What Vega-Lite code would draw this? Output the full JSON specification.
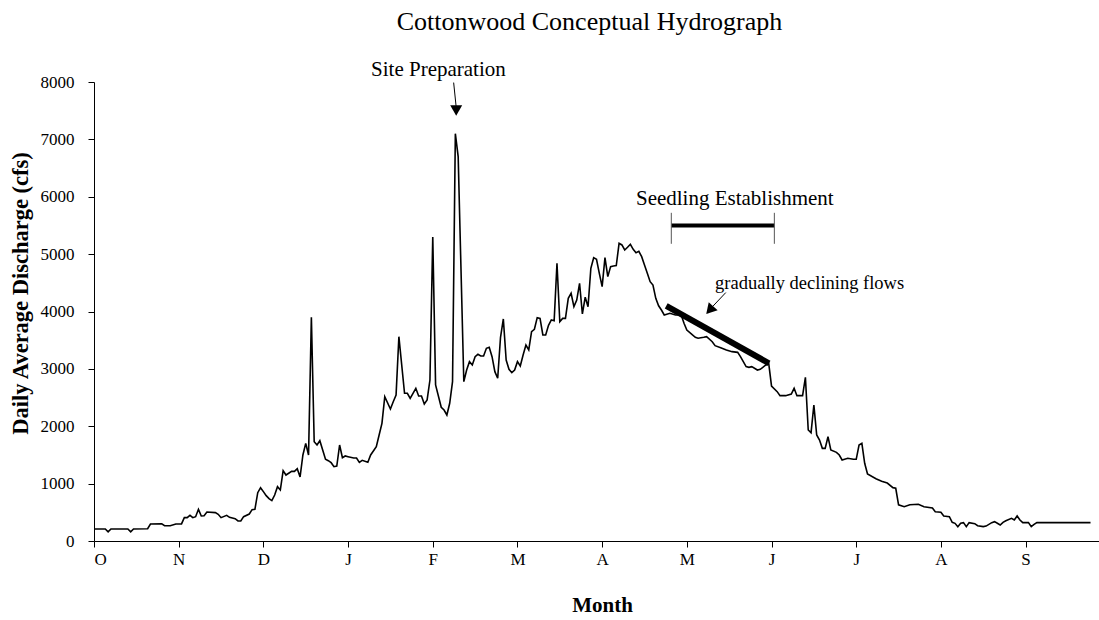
{
  "$schema": "https://vega.github.io/schema/vega-lite/v6.json",
  "width": 1005,
  "height": 459,
  "autosize": {"type": "none"},
  "padding": {"left": 94, "top": 82, "right": 0, "bottom": 79},
  "background": "white",
  "title": {"text": "Cottonwood Conceptual Hydrograph", "font": "Liberation Serif", "fontSize": 26, "fontWeight": "normal", "color": "black", "anchor": "middle", "baseline": "alphabetic", "offset": 3, "dx": -7},
  "config": {
    "view": {"stroke": null},
    "font": "Liberation Serif",
    "axis": {"domainColor": "black", "tickColor": "black", "labelColor": "black", "titleColor": "black", "labelFont": "Liberation Serif", "titleFont": "Liberation Serif", "grid": false, "tickSize": 6, "domainWidth": 1, "tickWidth": 1, "labelFontSize": 17, "titleFontWeight": "bold"}
  },
  "datasets": {
    "flow": [
      {"day":0,"cfs":210},{"day":4,"cfs":210},{"day":5,"cfs":160},{"day":6,"cfs":210},{"day":12,"cfs":210},{"day":13,"cfs":160},{"day":14,"cfs":210},{"day":19,"cfs":214},{"day":20,"cfs":296},{"day":24,"cfs":298},{"day":25,"cfs":267},{"day":27,"cfs":267},{"day":29,"cfs":296},{"day":31,"cfs":298},{"day":32,"cfs":407},{"day":33,"cfs":407},{"day":34,"cfs":447},{"day":35,"cfs":407},{"day":36,"cfs":424},{"day":37,"cfs":552},{"day":38,"cfs":436},{"day":39,"cfs":440},{"day":40,"cfs":505},{"day":43,"cfs":494},{"day":44,"cfs":465},{"day":45,"cfs":407},{"day":47,"cfs":447},{"day":48,"cfs":412},{"day":50,"cfs":389},{"day":51,"cfs":349},{"day":52,"cfs":349},{"day":53,"cfs":424},{"day":55,"cfs":470},{"day":56,"cfs":546},{"day":57,"cfs":552},{"day":58,"cfs":842},{"day":59,"cfs":929},{"day":60,"cfs":860},{"day":61,"cfs":790},{"day":62,"cfs":738},{"day":63,"cfs":703},{"day":64,"cfs":801},{"day":65,"cfs":947},{"day":66,"cfs":889},{"day":67,"cfs":1226},{"day":68,"cfs":1150},{"day":70,"cfs":1214},{"day":71,"cfs":1214},{"day":72,"cfs":1261},{"day":73,"cfs":1116},{"day":74,"cfs":1499},{"day":75,"cfs":1702},{"day":76,"cfs":1499},{"day":77,"cfs":3900},{"day":78,"cfs":1731},{"day":79,"cfs":1673},{"day":80,"cfs":1748},{"day":82,"cfs":1424},{"day":83,"cfs":1400},{"day":84,"cfs":1365},{"day":85,"cfs":1295},{"day":86,"cfs":1307},{"day":87,"cfs":1673},{"day":88,"cfs":1453},{"day":89,"cfs":1482},{"day":90,"cfs":1470},{"day":92,"cfs":1447},{"day":93,"cfs":1447},{"day":94,"cfs":1371},{"day":95,"cfs":1406},{"day":97,"cfs":1371},{"day":98,"cfs":1500},{"day":100,"cfs":1644},{"day":101,"cfs":1848},{"day":102,"cfs":2051},{"day":103,"cfs":2516},{"day":105,"cfs":2301},{"day":106,"cfs":2428},{"day":107,"cfs":2545},{"day":108,"cfs":3561},{"day":110,"cfs":2574},{"day":111,"cfs":2574},{"day":112,"cfs":2487},{"day":114,"cfs":2661},{"day":115,"cfs":2527},{"day":116,"cfs":2527},{"day":117,"cfs":2388},{"day":118,"cfs":2458},{"day":119,"cfs":2806},{"day":120,"cfs":5300},{"day":121,"cfs":2719},{"day":123,"cfs":2330},{"day":124,"cfs":2283},{"day":125,"cfs":2196},{"day":126,"cfs":2400},{"day":127,"cfs":2777},{"day":128,"cfs":7100},{"day":129,"cfs":6700},{"day":131,"cfs":2777},{"day":132,"cfs":2980},{"day":133,"cfs":3126},{"day":134,"cfs":3068},{"day":135,"cfs":3213},{"day":136,"cfs":3254},{"day":137,"cfs":3225},{"day":138,"cfs":3225},{"day":139,"cfs":3359},{"day":140,"cfs":3376},{"day":141,"cfs":3213},{"day":142,"cfs":2951},{"day":143,"cfs":2836},{"day":144,"cfs":3550},{"day":145,"cfs":3870},{"day":146,"cfs":3155},{"day":147,"cfs":2993},{"day":148,"cfs":2934},{"day":149,"cfs":2980},{"day":150,"cfs":3126},{"day":151,"cfs":3050},{"day":152,"cfs":3243},{"day":153,"cfs":3416},{"day":154,"cfs":3330},{"day":155,"cfs":3649},{"day":156,"cfs":3690},{"day":157,"cfs":3893},{"day":158,"cfs":3880},{"day":159,"cfs":3591},{"day":160,"cfs":3591},{"day":161,"cfs":3760},{"day":162,"cfs":3852},{"day":163,"cfs":3840},{"day":164,"cfs":4840},{"day":165,"cfs":3822},{"day":166,"cfs":3880},{"day":167,"cfs":3880},{"day":168,"cfs":4230},{"day":169,"cfs":4317},{"day":170,"cfs":4084},{"day":171,"cfs":4200},{"day":172,"cfs":4492},{"day":173,"cfs":3957},{"day":174,"cfs":4250},{"day":175,"cfs":4084},{"day":176,"cfs":4753},{"day":177,"cfs":4938},{"day":178,"cfs":4909},{"day":179,"cfs":4666},{"day":180,"cfs":4433},{"day":181,"cfs":4938},{"day":182,"cfs":4608},{"day":183,"cfs":4782},{"day":184,"cfs":4794},{"day":185,"cfs":4800},{"day":186,"cfs":5189},{"day":187,"cfs":5160},{"day":188,"cfs":5072},{"day":189,"cfs":5119},{"day":190,"cfs":5171},{"day":191,"cfs":5084},{"day":192,"cfs":5025},{"day":193,"cfs":5050},{"day":194,"cfs":4956},{"day":195,"cfs":4811},{"day":196,"cfs":4666},{"day":197,"cfs":4520},{"day":198,"cfs":4462},{"day":199,"cfs":4230},{"day":200,"cfs":4100},{"day":201,"cfs":4026},{"day":202,"cfs":3939},{"day":204,"cfs":3968},{"day":206,"cfs":3939},{"day":208,"cfs":3939},{"day":209,"cfs":3794},{"day":210,"cfs":3678},{"day":212,"cfs":3591},{"day":213,"cfs":3550},{"day":214,"cfs":3533},{"day":216,"cfs":3550},{"day":217,"cfs":3562},{"day":219,"cfs":3474},{"day":220,"cfs":3405},{"day":222,"cfs":3370},{"day":224,"cfs":3329},{"day":226,"cfs":3300},{"day":228,"cfs":3288},{"day":229,"cfs":3213},{"day":230,"cfs":3126},{"day":231,"cfs":3039},{"day":232,"cfs":3027},{"day":233,"cfs":3039},{"day":235,"cfs":2980},{"day":236,"cfs":2992},{"day":238,"cfs":3068},{"day":239,"cfs":3097},{"day":240,"cfs":2700},{"day":242,"cfs":2603},{"day":243,"cfs":2533},{"day":245,"cfs":2533},{"day":247,"cfs":2562},{"day":248,"cfs":2661},{"day":249,"cfs":2533},{"day":251,"cfs":2533},{"day":252,"cfs":2853},{"day":253,"cfs":1935},{"day":254,"cfs":1888},{"day":255,"cfs":2370},{"day":256,"cfs":1848},{"day":257,"cfs":1760},{"day":258,"cfs":1615},{"day":259,"cfs":1615},{"day":260,"cfs":1818},{"day":261,"cfs":1586},{"day":263,"cfs":1545},{"day":264,"cfs":1499},{"day":265,"cfs":1412},{"day":267,"cfs":1441},{"day":269,"cfs":1424},{"day":270,"cfs":1424},{"day":271,"cfs":1673},{"day":272,"cfs":1702},{"day":273,"cfs":1354},{"day":274,"cfs":1168},{"day":277,"cfs":1084},{"day":279,"cfs":1040},{"day":281,"cfs":1010},{"day":283,"cfs":930},{"day":284,"cfs":919},{"day":285,"cfs":630},{"day":287,"cfs":598},{"day":289,"cfs":633},{"day":292,"cfs":640},{"day":294,"cfs":598},{"day":297,"cfs":575},{"day":298,"cfs":511},{"day":300,"cfs":500},{"day":301,"cfs":436},{"day":303,"cfs":424},{"day":304,"cfs":325},{"day":305,"cfs":308},{"day":306,"cfs":250},{"day":307,"cfs":308},{"day":308,"cfs":320},{"day":309,"cfs":250},{"day":310,"cfs":320},{"day":312,"cfs":302},{"day":313,"cfs":267},{"day":315,"cfs":250},{"day":316,"cfs":260},{"day":318,"cfs":320},{"day":319,"cfs":337},{"day":320,"cfs":310},{"day":321,"cfs":279},{"day":322,"cfs":325},{"day":323,"cfs":354},{"day":325,"cfs":395},{"day":326,"cfs":366},{"day":327,"cfs":436},{"day":328,"cfs":366},{"day":329,"cfs":320},{"day":331,"cfs":320},{"day":332,"cfs":250},{"day":333,"cfs":290},{"day":334,"cfs":320},{"day":353,"cfs":320}
    ]
  },
  "encoding": {
    "x": {"field": "day", "type": "quantitative", "scale": {"domain": [0, 356], "nice": false, "zero": false},
      "axis": {"values": [0, 30, 60, 90, 120, 150, 180, 210, 240, 270, 300, 330], "labelExpr": "['O','N','D','J','F','M','A','M','J','J','A','S'][round(datum.value/30)]", "labelAngle": 0, "labelPadding": 4, "title": "Month", "titleFontSize": 21, "titlePadding": 27, "titleX": 508}},
    "y": {"field": "cfs", "type": "quantitative", "scale": {"domain": [0, 8000], "nice": false},
      "axis": {"values": [0, 1000, 2000, 3000, 4000, 5000, 6000, 7000, 8000], "format": "d", "labelPadding": 14, "title": "Daily Average Discharge (cfs)", "titleFontSize": 22.5, "titlePadding": 8, "titleY": 211}}
  },
  "layer": [
    {"data": {"name": "flow"}, "mark": {"type": "line", "color": "black", "strokeWidth": 1.6}},
    {"data": {"values": [{"day": 202.7, "cfs": 4096, "day2": 239.1, "cfs2": 3097}]},
      "mark": {"type": "rule", "color": "black", "strokeWidth": 6},
      "encoding": {"x2": {"field": "day2"}, "y2": {"field": "cfs2"}}},
    {"data": {"values": [{"day": 204.5, "cfs": 5500, "day2": 241, "cfs2": 5500}]},
      "mark": {"type": "rule", "color": "black", "strokeWidth": 4},
      "encoding": {"x2": {"field": "day2"}, "y2": {"field": "cfs2"}}},
    {"data": {"values": [{"day": 204.5, "cfs": 5180, "cfs2": 5720}, {"day": 241, "cfs": 5180, "cfs2": 5720}]},
      "mark": {"type": "rule", "color": "#555555", "strokeWidth": 1},
      "encoding": {"y2": {"field": "cfs2"}}},
    {"data": {"values": [{"day": 127.4, "cfs": 7990, "day2": 128.3, "cfs2": 7560}, {"day": 223.8, "cfs": 4330, "day2": 219.2, "cfs2": 4090}]},
      "mark": {"type": "rule", "color": "black", "strokeWidth": 1},
      "encoding": {"x2": {"field": "day2"}, "y2": {"field": "cfs2"}}},
    {"data": {"values": [{"day": 128.3, "cfs": 7504}]},
      "mark": {"type": "point", "shape": "triangle-down", "filled": true, "color": "black", "size": 144, "opacity": 1}},
    {"data": {"values": [{"day": 218.1, "cfs": 4025}]},
      "mark": {"type": "point", "shape": "triangle-up", "angle": 222, "filled": true, "color": "black", "size": 144, "opacity": 1}},
    {"data": {"values": [{"day": 122, "cfs": 8105, "label": "Site Preparation"}, {"day": 227, "cfs": 5856, "label": "Seedling Establishment"}]},
      "mark": {"type": "text", "font": "Liberation Serif", "fontSize": 21, "color": "black", "align": "center", "baseline": "alphabetic", "clip": false},
      "encoding": {"text": {"field": "label"}}},
    {"data": {"values": [{"day": 253.5, "cfs": 4387, "label": "gradually declining flows"}]},
      "mark": {"type": "text", "font": "Liberation Serif", "fontSize": 18.5, "color": "black", "align": "center", "baseline": "alphabetic"},
      "encoding": {"text": {"field": "label"}}}
  ]
}
